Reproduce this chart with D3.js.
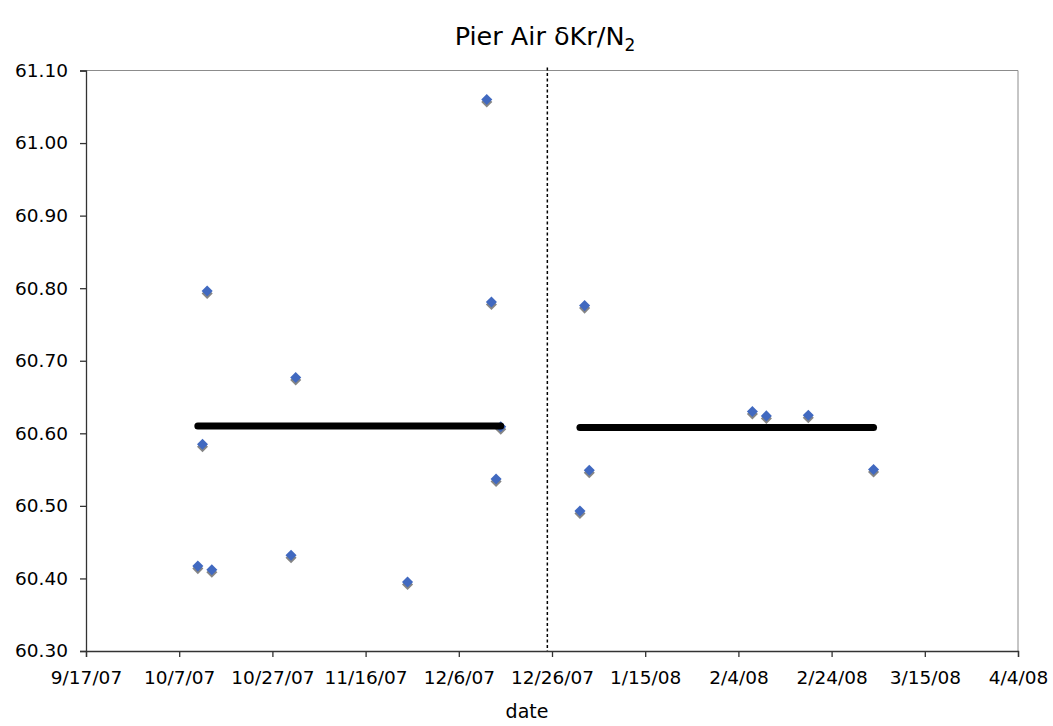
<!DOCTYPE html>
<html>
<head>
<meta charset="utf-8">
<script src="https://cdn.jsdelivr.net/npm/d3@7/dist/d3.min.js"></script>
<style>
  html, body { margin: 0; padding: 0; background: #fff; }
  svg text { font-family: "DejaVu Sans", Verdana, sans-serif; fill: #000; }
</style>
</head>
<body>
<svg id="chart" width="1053" height="726"></svg>
<script>
// ---- data ----
const period1Dates = ["2007-10-11","2007-10-12","2007-10-13","2007-10-14","2007-10-31","2007-11-01","2007-11-25","2007-12-12","2007-12-13","2007-12-14","2007-12-15"];
const period1Values = [60.417, 60.585, 60.796, 60.412, 60.432, 60.677, 60.395, 61.060, 60.781, 60.537, 60.609];
const period2Dates = ["2008-01-01","2008-01-02","2008-01-03","2008-02-07","2008-02-10","2008-02-19","2008-03-04"];
const period2Values = [60.493, 60.776, 60.549, 60.630, 60.624, 60.625, 60.550];
const meanLines = [
  {start: "2007-10-11", end: "2007-12-15", value: 60.610},
  {start: "2008-01-01", end: "2008-03-04", value: 60.608}
];
const dividerDate = "2007-12-25";
const xTickLabels = ["9/17/07","10/7/07","10/27/07","11/16/07","12/6/07","12/26/07","1/15/08","2/4/08","2/24/08","3/15/08","4/4/08"];
const yTickValues = [60.30, 60.40, 60.50, 60.60, 60.70, 60.80, 60.90, 61.00, 61.10];

const parse = d3.timeParse("%Y-%m-%d");
const parseTick = d3.timeParse("%-m/%-d/%y");

const margin = {left: 86, right: 1018, top: 70.5, bottom: 651};
const svg = d3.select("#chart");

const x = d3.scaleUtc()
  .domain([Date.UTC(2007, 8, 17), Date.UTC(2008, 3, 4)])
  .range([margin.left, margin.right]);
const y = d3.scaleLinear().domain([60.30, 61.10]).range([margin.bottom, margin.top]);

const toUTC = s => { const d = parse(s); return Date.UTC(d.getFullYear(), d.getMonth(), d.getDate()); };
const tickUTC = s => { const d = parseTick(s); return Date.UTC(d.getFullYear(), d.getMonth(), d.getDate()); };

// plot area border (top/right gray)
svg.append("line").attr("x1", margin.left).attr("x2", margin.right).attr("y1", margin.top).attr("y2", margin.top)
  .attr("stroke", "#8c8c8c").attr("stroke-width", 1);
svg.append("line").attr("x1", margin.right).attr("x2", margin.right).attr("y1", margin.top).attr("y2", margin.bottom)
  .attr("stroke", "#8c8c8c").attr("stroke-width", 1);

// y axis
const yAxis = d3.axisLeft(y).tickValues(yTickValues).tickFormat(d3.format(".2f")).tickSize(6).tickPadding(12);
const gy = svg.append("g").attr("transform", `translate(${margin.left},0)`).call(yAxis);
gy.select(".domain").attr("stroke", "#333").attr("stroke-width", 1.3);
gy.selectAll(".tick line").attr("stroke", "#333").attr("stroke-width", 1.3);
gy.selectAll(".tick text").style("font-size", "18.5px").attr("fill", "#000");

// x axis
const xAxis = d3.axisBottom(x).tickValues(xTickLabels.map(tickUTC))
  .tickFormat((d, i) => xTickLabels[i]).tickSize(6).tickPadding(14);
const gx = svg.append("g").attr("transform", `translate(0,${margin.bottom})`).call(xAxis);
gx.select(".domain").attr("stroke", "#333").attr("stroke-width", 1.3);
gx.selectAll(".tick line").attr("stroke", "#333").attr("stroke-width", 1.3);
gx.selectAll(".tick text").style("font-size", "18.5px").attr("fill", "#000");

// divider dashed line
svg.append("line")
  .attr("x1", x(toUTC(dividerDate))).attr("x2", x(toUTC(dividerDate)))
  .attr("y1", margin.top - 3).attr("y2", margin.bottom)
  .attr("stroke", "#000").attr("stroke-width", 1.5).attr("stroke-dasharray", "3,2.5");

// points
const pts = period1Dates.map((d, i) => ({date: d, value: period1Values[i]}))
  .concat(period2Dates.map((d, i) => ({date: d, value: period2Values[i]})));
const diamond = d3.symbol().type(d3.symbolDiamond2).size(78);
const g = svg.append("g");
g.selectAll("path.shadow").data(pts).enter().append("path")
  .attr("class", "shadow")
  .attr("d", diamond)
  .attr("transform", d => `translate(${x(toUTC(d.date))},${y(d.value) + 2.5})`)
  .attr("fill", "#858585");
g.selectAll("path.pt").data(pts).enter().append("path")
  .attr("class", "pt")
  .attr("d", diamond)
  .attr("transform", d => `translate(${x(toUTC(d.date))},${y(d.value)})`)
  .attr("fill", "#4169c0");

// mean lines
svg.selectAll("line.mean").data(meanLines).enter().append("line")
  .attr("class", "mean")
  .attr("x1", d => x(toUTC(d.start))).attr("x2", d => x(toUTC(d.end)))
  .attr("y1", d => y(d.value)).attr("y2", d => y(d.value))
  .attr("stroke", "#000").attr("stroke-width", 7).attr("stroke-linecap", "round");

// title
const title = svg.append("text").attr("x", 545).attr("y", 45).attr("text-anchor", "middle")
  .style("font-size", "25.5px");
title.append("tspan").text("Pier Air δKr/N");
title.append("tspan").attr("dy", 6).style("font-size", "17px").text("2");

// x label
svg.append("text").attr("x", 527).attr("y", 718).attr("text-anchor", "middle")
  .style("font-size", "19px").text("date");
</script>
</body>
</html>
